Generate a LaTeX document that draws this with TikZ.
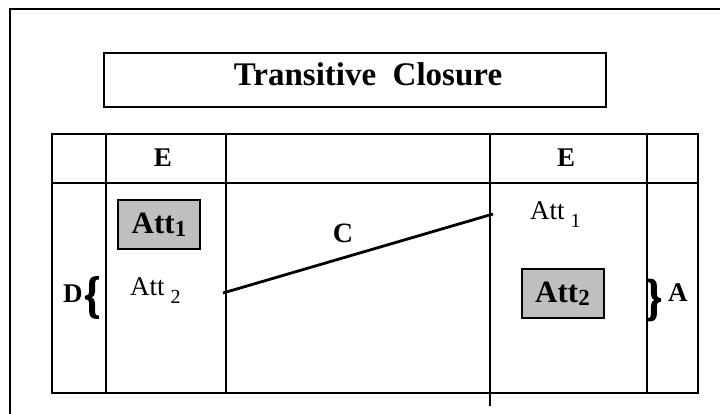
\documentclass[tikz,border=0pt]{standalone}
\usepackage{fontspec}
\setmainfont{Liberation Serif}
\newfontfamily\bracefont[FakeBold=2.5]{Liberation Serif Bold}
\begin{document}
\begin{tikzpicture}[x=1pt,y=-1pt,
  rule/.style={line width=2.2pt, line cap=rect},
  framebox/.style={draw, line width=2.5pt},
  attbox/.style={draw, line width=2pt, fill=gray!50, inner sep=0pt,
    minimum width=82pt, minimum height=49pt, font=\fontsize{31}{33}\selectfont\bfseries},
  bold/.style={inner sep=0pt, font=\fontsize{27}{29}\selectfont\bfseries},
  plain/.style={inner sep=0pt, anchor=base west, font=\fontsize{27}{30}\selectfont},
  brace/.style={inner sep=0pt, font=\fontsize{40}{44}\bracefont}]
  \useasboundingbox (0,0) rectangle (720,414);

  % outer frame, running off the page to the right and bottom
  \draw[line width=2.6pt] (10,9) rectangle (740,440);

  % title
  \node[framebox, minimum width=502pt, minimum height=54pt, inner sep=0pt] (title) at (355,80) {};
  \node[inner sep=0pt, anchor=base, font=\fontsize{33}{36}\selectfont\bfseries] (titletext) at (368,86)
    {Transitive\hspace{0.5em}Closure};

  % table grid
  \draw[rule] (52,134) rectangle (698,393);
  \draw[rule] (52,183) -- (698,183);
  \draw[rule] (106,134) -- (106,393);
  \draw[rule] (226,134) -- (226,393);
  \draw[rule] (490,134) -- (490,405);
  \draw[rule] (647,134) -- (647,393);

  % headers
  \node[bold] (eleft) at (163,158) {E};
  \node[bold] (eright) at (566,158) {E};

  % left entity attributes
  \node[attbox] (att1box) at (159,224.5) {Att\raisebox{-3pt}{\fontsize{23}{25}\selectfont 1}};
  \node[plain] (att2plain) at (130,295) {Att\hspace{6pt}\raisebox{-8pt}{\fontsize{20}{22}\selectfont 2}};

  % right entity attributes
  \node[plain] (att1plain) at (530,220) {Att\hspace{6pt}\raisebox{-8pt}{\fontsize{20}{22}\selectfont 1}};
  \node[attbox] (att2box) at (562.5,293.5) {Att\raisebox{-3pt}{\fontsize{23}{25}\selectfont 2}};

  % connector C
  \coordinate (cstart) at (223,293);
  \coordinate (cend) at (493,214);
  \draw[line width=2.8pt] (cstart) -- (cend);
  \node[bold, font=\fontsize{28}{30}\selectfont\bfseries] (clabel) at (343,233) {C};

  % D and A with braces
  \node[bold, anchor=base west] (dlabel) at (63,302) {D};
  \node[brace] (dbrace) at (92,297.5) {\scalebox{1}[1.25]{\{}};
  \node[brace] (abrace) at (654,300) {\scalebox{1}[1.25]{\}}};
  \node[bold, anchor=base west] (alabel) at (668,301) {A};
\end{tikzpicture}
\end{document}
